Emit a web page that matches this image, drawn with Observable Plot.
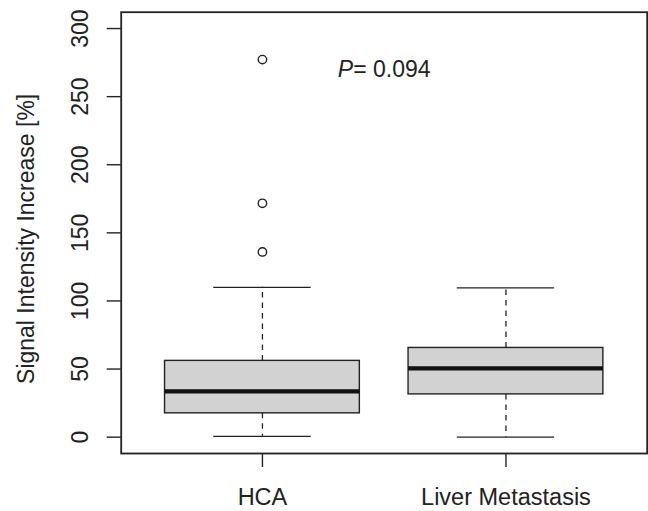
<!DOCTYPE html>
<html>
<head>
<meta charset="utf-8">
<script src="https://cdn.jsdelivr.net/npm/d3@7"></script>
<script src="https://cdn.jsdelivr.net/npm/@observablehq/plot@0.6"></script>
<style>
  html, body { margin: 0; padding: 0; background: #ffffff; }
  #chart svg { display: block; }
</style>
</head>
<body>
<div id="chart"></div>
<script>
// ---- data ----
const groups        = ["HCA", "Liver Metastasis"];
const lowerWhisker  = [0.6, 0];
const q1            = [17.5, 31.4];
const medians       = [33.6, 50.5];
const q3            = [56.0, 65.5];
const upperWhisker  = [110.0, 109.6];
const outlierGroup  = ["HCA", "HCA", "HCA"];
const outlierValue  = [277.2, 171.7, 136.0];
const yTicks        = [0, 50, 100, 150, 200, 250, 300];
const yLabel        = "Signal Intensity Increase [%]";
const pSymbol       = "P";
const pValueText    = "= 0.094";
const pLabelX       = [1.5];   // group-axis position of annotation
const pLabelY       = [270];   // value of annotation

// ---- derived tables ----
const boxes = groups.map((g, i) => ({
  group: g, pos: i + 1,
  lower: lowerWhisker[i], q1: q1[i], median: medians[i], q3: q3[i], upper: upperWhisker[i]
}));
const outliers = outlierValue.map((v, i) => ({pos: groups.indexOf(outlierGroup[i]) + 1, value: v}));
const annot = pLabelX.map((x, i) => ({x, y: pLabelY[i]}));

const INK = "#222";
const FONT = "'Liberation Sans', Arial, Helvetica, sans-serif";

const chart = Plot.plot({
  width: 648,
  height: 511,
  marginLeft: 120.7,
  marginRight: 1.3,
  marginTop: 11.7,
  marginBottom: 58,
  style: {fontFamily: FONT, fontSize: "23px", color: INK, background: "#ffffff", overflow: "visible"},
  x: {type: "linear", domain: [0.42, 2.58]},
  y: {type: "linear", domain: [-12, 312]},
  marks: [
    // whiskers (dashed)
    Plot.ruleX(boxes, {x: "pos", y1: "q3", y2: "upper", stroke: INK, strokeWidth: 1.3, strokeDasharray: "5.5,5"}),
    Plot.ruleX(boxes, {x: "pos", y1: "q1", y2: "lower", stroke: INK, strokeWidth: 1.3, strokeDasharray: "5.5,5"}),
    // whisker caps
    Plot.ruleY(boxes, {y: "upper", x1: d => d.pos - 0.2, x2: d => d.pos + 0.2, stroke: INK, strokeWidth: 1.4}),
    Plot.ruleY(boxes, {y: "lower", x1: d => d.pos - 0.2, x2: d => d.pos + 0.2, stroke: INK, strokeWidth: 1.4}),
    // boxes
    Plot.rect(boxes, {x1: d => d.pos - 0.4, x2: d => d.pos + 0.4, y1: "q1", y2: "q3",
      fill: "#d1d2d1", stroke: INK, strokeWidth: 1.4}),
    // medians
    Plot.ruleY(boxes, {y: "median", x1: d => d.pos - 0.4, x2: d => d.pos + 0.4, stroke: "#111", strokeWidth: 4.2}),
    // outliers
    Plot.dot(outliers, {x: "pos", y: "value", r: 4.2, stroke: INK, strokeWidth: 1.4, fill: "none"}),
    // annotation: italic P followed by "= 0.094"
    Plot.text(annot, {x: "x", y: "y", text: () => pSymbol, fontStyle: "italic", textAnchor: "end",
      dx: -31, fill: INK, fontSize: 23}),
    Plot.text(annot, {x: "x", y: "y", text: () => pValueText, textAnchor: "start",
      dx: -31, fill: INK, fontSize: 23}),
    // axes
    Plot.axisY({ticks: yTicks, tickSize: 14, tickRotate: -90, tickPadding: 19, label: null,
      stroke: INK, strokeWidth: 1.4, fill: INK, fontSize: 23}),
    Plot.axisX({ticks: [1, 2], tickFormat: d => groups[Math.round(d) - 1], tickSize: 14, tickPadding: 21,
      label: null, stroke: INK, strokeWidth: 1.4, fill: INK, fontSize: 23.5}),
    // y axis title
    Plot.text([yLabel], {frameAnchor: "left", text: d => d, rotate: -90, textAnchor: "middle",
      lineAnchor: "bottom", dx: -87.7, dy: 6, fill: INK, fontSize: 23}),
    // plot frame
    Plot.frame({stroke: INK, strokeWidth: 1.8})
  ]
});

document.getElementById("chart").appendChild(chart);
</script>
</body>
</html>
